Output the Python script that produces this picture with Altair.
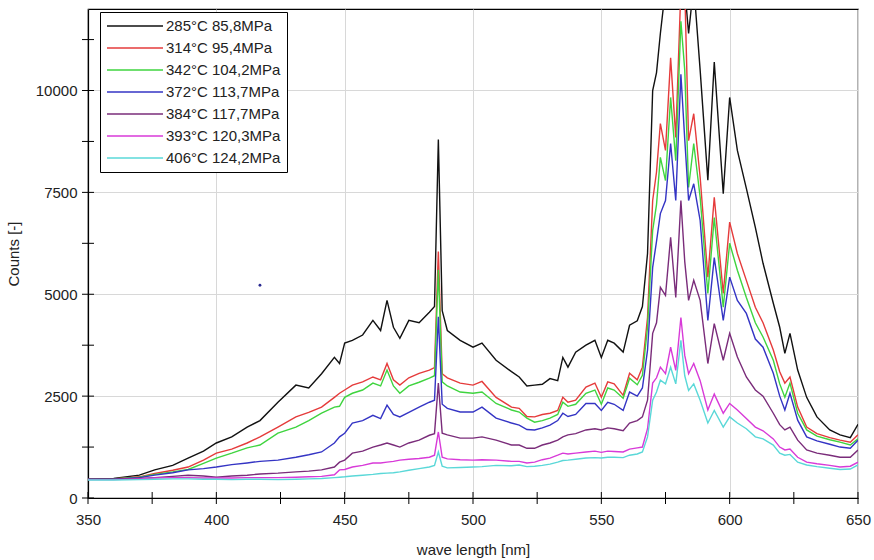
import altair as alt
import pandas as pd

wavelength = [350, 360, 370, 376, 383, 389, 395, 400, 406, 412,
              417, 424, 431, 436, 441, 446, 448, 450, 453, 457,
              461, 464, 466.5, 469, 471.5, 475, 479, 483, 485, 486.5,
              488, 490, 495, 500, 503.5, 509, 515, 518, 521, 524,
              527, 530, 533, 535, 537, 540, 544, 547.5, 550, 552.5,
              555, 558.5, 561, 564, 566, 568, 570, 571.5, 573, 575,
              577, 579, 581, 582.5, 584, 586, 588.5, 591.5, 594, 597.5,
              600, 603, 606.5, 610, 613, 617, 619.5, 621.5, 623.5, 626.5,
              630, 634, 639, 643, 647, 650]

s285 = [460, 480, 560, 690, 800, 980, 1150, 1350, 1500, 1740,
        1900, 2350, 2770, 2700, 3050, 3450, 3300, 3800, 3870, 4000,
        4360, 4110, 4850, 4190, 3920, 4360, 4300, 4560, 4700, 8800,
        4600, 4110, 3870, 3700, 3800, 3380, 3100, 2970, 2750, 2770,
        2790, 2930, 2880, 3450, 3210, 3580, 3750, 3870, 3450, 3870,
        3800, 3580, 4240, 4350, 4700, 6000, 10000, 10440, 11400, 12500,
        13000, 13000, 12800, 12500, 11400, 12600, 10500, 7800, 10700, 7470,
        9830, 8530, 7600, 6640, 5760, 4780, 4190, 3550, 4040, 3140,
        2470, 1990, 1670, 1550, 1480, 1810]

s314 = [460, 470, 520, 600, 680, 760, 930, 1100, 1200, 1350,
        1500, 1740, 1990, 2100, 2230, 2470, 2570, 2650, 2770, 2850,
        2970, 2900, 3300, 2900, 2770, 2950, 3060, 3140, 3200, 6050,
        3050, 2950, 2820, 2770, 2860, 2470, 2230, 2200, 2000, 1990,
        2050, 2080, 2150, 2470, 2350, 2400, 2720, 2820, 2470, 2850,
        2800, 2520, 3060, 2900, 3210, 4430, 7300, 8000, 9190, 8530,
        10800, 8850, 12500, 12500, 8770, 9430, 7870, 5420, 7380, 5020,
        6770, 6000, 5340, 4680, 4300, 3630, 3100, 2820, 2970, 2230,
        1740, 1580, 1480, 1420, 1370, 1550]

s342 = [460, 470, 510, 580, 640, 700, 850, 980, 1100, 1230,
        1300, 1590, 1740, 1900, 2080, 2230, 2250, 2470, 2570, 2650,
        2820, 2750, 3140, 2750, 2570, 2750, 2840, 2940, 3000, 5600,
        2850, 2750, 2600, 2570, 2600, 2320, 2160, 2110, 1960, 1860,
        1900, 1960, 2050, 2350, 2250, 2300, 2570, 2650, 2300, 2700,
        2650, 2450, 2940, 2780, 3010, 4190, 6570, 7200, 8360, 7790,
        9830, 8280, 11700, 10500, 7620, 8700, 7380, 5020, 6880, 4680,
        6250, 5590, 4920, 4300, 3950, 3380, 2800, 2470, 2820, 2080,
        1670, 1520, 1430, 1370, 1300, 1450]

s372 = [460, 460, 500, 560, 620, 690, 720, 760, 820, 860,
        900, 930, 1000, 1060, 1130, 1350, 1500, 1590, 1840, 1900,
        2030, 1950, 2280, 2050, 1990, 2100, 2230, 2350, 2400, 4450,
        2300, 2200, 2110, 2110, 2230, 1960, 1840, 1790, 1680, 1670,
        1720, 1790, 1900, 2080, 2000, 2050, 2320, 2320, 2150, 2350,
        2300, 2150, 2600, 2500, 2700, 3630, 5660, 6300, 6980, 7300,
        8700, 7300, 10400, 8800, 7300, 7710, 6810, 4360, 5900, 4360,
        5420, 4850, 4530, 3900, 3700, 3060, 2500, 2160, 2570, 1910,
        1500, 1400, 1320, 1250, 1220, 1420]

s384 = [460, 460, 480, 500, 530, 560, 540, 510, 540, 560,
        590, 610, 640, 660, 690, 760, 880, 930, 1100, 1150,
        1250, 1300, 1350, 1300, 1250, 1350, 1420, 1540, 1580, 2820,
        1590, 1550, 1470, 1470, 1500, 1420, 1300, 1300, 1220, 1220,
        1300, 1350, 1420, 1500, 1550, 1580, 1670, 1700, 1670, 1720,
        1700, 1650, 1840, 1900, 1990, 2400, 4040, 4300, 5170, 4970,
        6400, 4920, 7300, 5800, 4850, 5340, 4850, 3300, 4280, 3380,
        4040, 3460, 2970, 2650, 2500, 2080, 1800, 1670, 1740, 1420,
        1180, 1100, 1050, 1000, 1000, 1180]

s393 = [450, 450, 470, 490, 500, 500, 490, 490, 490, 500,
        500, 500, 510, 520, 530, 570, 690, 700, 760, 800,
        860, 860, 880, 900, 930, 950, 970, 1000, 1050, 1620,
        1000, 960, 940, 930, 940, 930, 900, 900, 860, 880,
        940, 980, 1050, 1100, 1080, 1100, 1130, 1150, 1120, 1150,
        1140, 1130, 1200, 1230, 1250, 1700, 2820, 2950, 3210, 3050,
        3700, 3130, 4430, 3500, 3050, 3300, 2880, 2160, 2550, 2080,
        2320, 2160, 1950, 1740, 1650, 1450, 1250, 1180, 1200, 1000,
        880, 840, 800, 760, 780, 880]

s406 = [440, 440, 450, 460, 470, 470, 460, 460, 450, 460,
        460, 450, 460, 470, 480, 500, 510, 520, 540, 560,
        580, 600, 610, 620, 640, 680, 720, 760, 800, 1130,
        780, 740, 750, 760, 770, 800, 790, 810, 770, 780,
        800, 830, 880, 920, 930, 950, 980, 990, 980, 1000,
        1000, 990, 1050, 1080, 1130, 1500, 2400, 2600, 2890, 2800,
        3210, 2800, 3870, 3000, 2640, 2800, 2400, 1840, 2150, 1740,
        1990, 1840, 1700, 1500, 1450, 1300, 1100, 1050, 1070, 880,
        810, 770, 730, 700, 710, 810]

series_labels = ["285°C 85,8MPa", "314°C 95,4MPa", "342°C 104,2MPa",
                 "372°C 113,7MPa", "384°C 117,7MPa", "393°C 120,3MPa",
                 "406°C 124,2MPa"]
series_colors = ["#111111", "#e53b3b", "#3fd43f", "#3434c4",
                 "#7a2c7a", "#d83ad8", "#5ad8d8"]
series_values = [s285, s314, s342, s372, s384, s393, s406]

stray_wl = [417]
stray_counts = [5220]

x_major = [350, 400, 450, 500, 550, 600, 650]
x_ticks = [350, 375, 400, 425, 450, 475, 500, 525, 550, 575, 600, 625, 650]
y_major = [0, 2500, 5000, 7500, 10000]
y_ticks = [0, 1250, 2500, 3750, 5000, 6250, 7500, 8750, 10000, 11250]

rows = []
for lab, vals in zip(series_labels, series_values):
    assert len(vals) == len(wavelength)
    for w, v in zip(wavelength, vals):
        rows.append({"wl": w, "counts": v, "series": lab})
df = pd.DataFrame(rows)

FONT = "Liberation Sans"
W, H = 770, 489

x_scale = alt.Scale(domain=[350, 650], nice=False, zero=False)
y_scale = alt.Scale(domain=[0, 12000], nice=False, zero=True)

x_axis = alt.Axis(values=x_major, title="wave length [nm]", ticks=False,
                  labelPadding=14, titlePadding=15, grid=True, labelFlush=False)
y_axis = alt.Axis(values=y_major, title="Counts [-]", ticks=False,
                  labelPadding=11, titlePadding=14, grid=True, format="d")

lines = alt.Chart(df).mark_line(strokeWidth=1.4, clip=True).encode(
    x=alt.X("wl:Q", scale=x_scale, axis=x_axis),
    y=alt.Y("counts:Q", scale=y_scale, axis=y_axis),
    color=alt.Color("series:N",
                    scale=alt.Scale(domain=series_labels, range=series_colors),
                    sort=series_labels,
                    legend=alt.Legend(title=None, orient="none", legendX=12, legendY=3,
                                      symbolType="M-1,0H7", symbolSize=196,
                                      symbolStrokeWidth=1.6, labelFont=FONT,
                                      labelFontSize=15, labelColor="#222222",
                                      strokeColor="black", fillColor="white",
                                      padding=6, rowPadding=6, labelOffset=44)),
)

stray = alt.Chart(pd.DataFrame({"wl": stray_wl, "counts": stray_counts})).mark_point(
    filled=True, size=8, color="#2a2a90", opacity=1
).encode(
    x=alt.X("wl:Q", scale=x_scale, axis=x_axis),
    y=alt.Y("counts:Q", scale=y_scale, axis=y_axis),
)

yticks = alt.Chart(pd.DataFrame({"counts": y_ticks})).mark_rule(color="black", strokeWidth=1).encode(
    y=alt.Y("counts:Q", scale=y_scale, axis=y_axis),
    x=alt.value(-6), x2=alt.value(6),
)
xticks = alt.Chart(pd.DataFrame({"wl": x_ticks})).mark_rule(color="black", strokeWidth=1).encode(
    x=alt.X("wl:Q", scale=x_scale, axis=x_axis),
    y=alt.value(H - 6), y2=alt.value(H + 6),
)

chart = alt.layer(lines, stray, yticks, xticks).properties(
    width=W, height=H,
    autosize=alt.AutoSizeParams(type="none"),
    padding={"left": 88, "top": 9, "right": 16, "bottom": 62},
    background="white",
).configure_view(
    stroke="black", strokeWidth=1.2
).configure_axis(
    domainColor="black", domainWidth=1.2,
    gridColor="#d8d8d8", gridWidth=1,
    labelFont=FONT, labelFontSize=15, labelColor="#222222",
    titleFont=FONT, titleFontSize=15, titleColor="#222222", titleFontWeight="normal",
)

chart.save("out.html", embed_options={"renderer": "svg", "actions": False})
